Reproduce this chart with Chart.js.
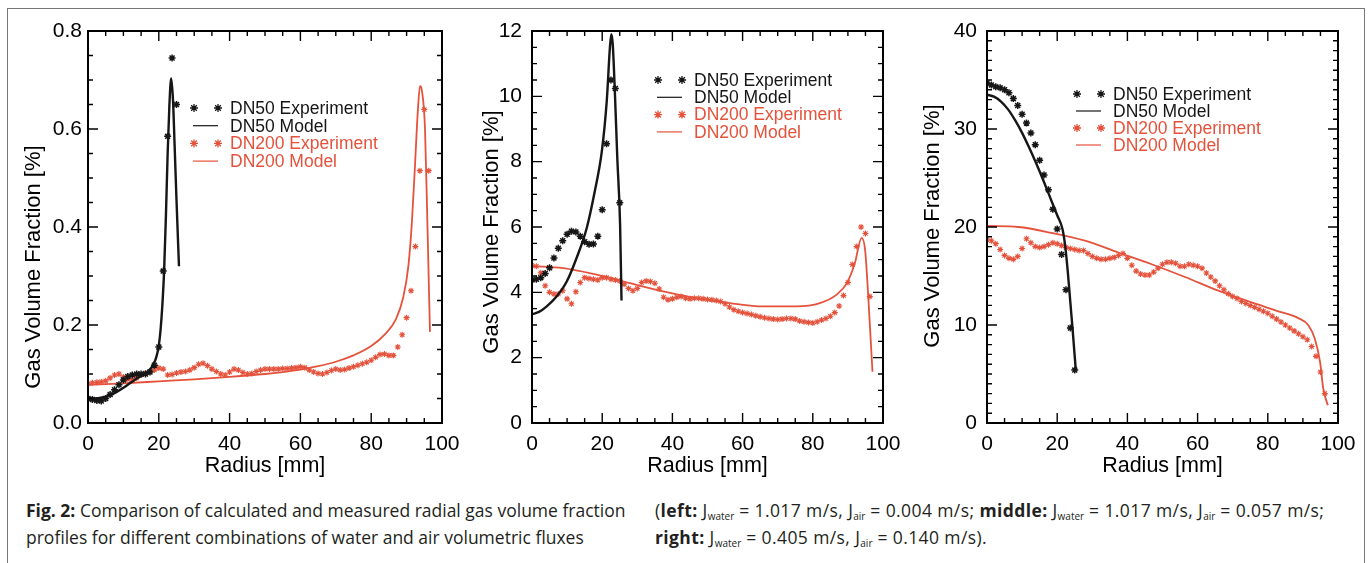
<!DOCTYPE html>
<html>
<head>
<meta charset="utf-8">
<script src="https://cdn.jsdelivr.net/npm/chart.js@4.4.1/dist/chart.umd.min.js"></script>
<style>
  html, body { margin: 0; padding: 0; background: #fff; }
  body { width: 1371px; height: 563px; position: relative; overflow: hidden; }
  #frame { position: absolute; left: 7px; top: 8px; width: 1358px; height: 600px; border: 1px solid #777; box-sizing: border-box; }
  canvas { position: absolute; top: 0; }
  .caption { position: absolute; top: 497px; font-family: "Open Sans", Lato, sans-serif; font-size: 17.5px; line-height: 27px; color: #231f20; white-space: nowrap; letter-spacing: 0; }
  .caption.right { letter-spacing: 0.4px; }
  .caption sub { font-size: 10px; line-height: 0; vertical-align: -3px; letter-spacing: 0; }
</style>
</head>
<body>
<div id="frame"></div>
<canvas id="c1" width="470" height="485" style="left:0px"></canvas>
<canvas id="c2" width="460" height="485" style="left:450px"></canvas>
<canvas id="c3" width="465" height="485" style="left:900px"></canvas>
<div class="caption" style="left:26px"><b>Fig. 2:</b> Comparison of calculated and measured radial gas volume fraction<br>profiles for different combinations of water and air volumetric fluxes</div>
<div class="caption right" style="left:655px">(<b>left:</b> J<sub>water</sub> = 1.017 m/s, J<sub>air</sub> = 0.004 m/s; <b>middle:</b> J<sub>water</sub> = 1.017 m/s, J<sub>air</sub> = 0.057 m/s;<br><b>right:</b> J<sub>water</sub> = 0.405 m/s, J<sub>air</sub> = 0.140 m/s).</div>
<script>
// measurement radii [mm]
const dn50R = [0, 1.25, 2.5, 3.75, 5, 6.25, 7.5, 8.75, 10, 11.25, 12.5, 13.75, 15, 16.25, 17.5, 18.75, 20, 21.25, 22.5, 23.75, 25];
const dn200R = [0, 1.25, 2.5, 3.75, 5, 6.25, 7.5, 8.75, 10, 11.25,
  12.5, 13.75, 15, 16.25, 17.5, 18.75, 20, 21.25, 22.5, 23.75,
  25, 26.25, 27.5, 28.75, 30, 31.25, 32.5, 33.75, 35, 36.25,
  37.5, 38.75, 40, 41.25, 42.5, 43.75, 45, 46.25, 47.5, 48.75,
  50, 51.25, 52.5, 53.75, 55, 56.25, 57.5, 58.75, 60, 61.25,
  62.5, 63.75, 65, 66.25, 67.5, 68.75, 70, 71.25, 72.5, 73.75,
  75, 76.25, 77.5, 78.75, 80, 81.25, 82.5, 83.75, 85, 86.25,
  87.5, 88.75, 90, 91.25, 92.5, 93.75, 95, 96.25];

// left panel
const exp50Left = [0.050, 0.048, 0.046, 0.045, 0.050, 0.058, 0.068, 0.078, 0.088, 0.095, 0.098, 0.100, 0.100, 0.100, 0.104, 0.118, 0.155, 0.310, 0.585, 0.745, 0.650];
const mod50LeftR = [0, 2, 4, 6, 8, 10, 12, 14, 16, 17, 18, 19, 19.5, 20, 20.5, 21, 21.5, 22, 22.5, 23, 23.5, 24, 24.5, 25, 25.7];
const mod50LeftV = [0.050, 0.050, 0.052, 0.056, 0.063, 0.072, 0.082, 0.092, 0.100, 0.106, 0.114, 0.128, 0.140, 0.158, 0.19, 0.24, 0.31, 0.42, 0.55, 0.65, 0.703, 0.66, 0.56, 0.455, 0.32];
const exp200Left = [0.080, 0.082, 0.083, 0.084, 0.086, 0.092, 0.098, 0.100, 0.094, 0.089,
  0.088, 0.092, 0.098, 0.102, 0.104, 0.108, 0.112, 0.110, 0.098, 0.099,
  0.102, 0.104, 0.105, 0.108, 0.113, 0.120, 0.122, 0.117, 0.110, 0.105,
  0.100, 0.098, 0.104, 0.110, 0.108, 0.103, 0.100, 0.101, 0.105, 0.108,
  0.110, 0.110, 0.110, 0.110, 0.111, 0.111, 0.112, 0.113, 0.115, 0.113,
  0.108, 0.104, 0.101, 0.100, 0.103, 0.107, 0.110, 0.108, 0.109, 0.112,
  0.115, 0.118, 0.121, 0.124, 0.128, 0.134, 0.140, 0.141, 0.138, 0.138,
  0.155, 0.180, 0.215, 0.270, 0.360, 0.515, 0.640, 0.515];
const mod200LeftR = [0, 10, 20, 30, 40, 50, 55, 60, 65, 70, 75, 80, 84, 87, 89, 90.5, 91.5, 92.4, 93.2, 93.8, 94.4, 95.2, 95.9, 96.6];
const mod200LeftV = [0.078, 0.081, 0.085, 0.089, 0.094, 0.100, 0.104, 0.109, 0.116, 0.125, 0.138, 0.157, 0.182, 0.212, 0.255, 0.32, 0.41, 0.53, 0.64, 0.688, 0.675, 0.60, 0.40, 0.186];

// middle panel
const exp50Mid = [4.38, 4.40, 4.45, 4.58, 4.75, 5.05, 5.35, 5.58, 5.78, 5.87, 5.85, 5.72, 5.55, 5.47, 5.48, 5.72, 6.53, 8.55, 10.5, 10.24, 6.74];
const mod50MidR = [0, 2, 4.2, 7, 9.9, 12.7, 15.6, 17.9, 19.9, 21.3, 22.2, 22.6, 23.0, 23.6, 24.3, 25.1, 25.5];
const mod50MidV = [3.33, 3.40, 3.57, 3.87, 4.33, 5.05, 5.97, 7.10, 8.32, 9.86, 11.5, 11.9, 11.6, 10.16, 8.12, 6.07, 3.75];
const exp200Mid = [4.82, 4.80, 4.60, 4.20, 4.00, 3.95, 3.95, 4.05, 3.80, 3.65,
  4.02, 4.30, 4.45, 4.42, 4.40, 4.38, 4.45, 4.45, 4.40, 4.38,
  4.35, 4.25, 4.12, 4.05, 4.12, 4.30, 4.35, 4.33, 4.28, 4.10,
  3.85, 3.77, 3.80, 3.85, 3.87, 3.82, 3.80, 3.82, 3.82, 3.80,
  3.78, 3.77, 3.75, 3.72, 3.65, 3.55, 3.47, 3.42, 3.38, 3.35,
  3.32, 3.28, 3.25, 3.22, 3.20, 3.18, 3.17, 3.18, 3.20, 3.20,
  3.18, 3.12, 3.10, 3.08, 3.06, 3.10, 3.15, 3.20, 3.27, 3.38,
  3.58, 3.90, 4.30, 4.85, 5.40, 6.00, 5.80, 3.87];
const mod200MidR = [0, 8.9, 18.4, 27.9, 37.4, 46.9, 56.4, 65.9, 75.4, 82, 86.8, 89.7, 92, 93.9, 94.9, 95.8, 97.0];
const mod200MidV = [4.80, 4.74, 4.54, 4.28, 4.03, 3.82, 3.67, 3.57, 3.57, 3.67, 3.93, 4.28, 4.90, 5.67, 5.30, 3.87, 1.57];

// right panel
const exp50Right = [34.7, 34.5, 34.3, 34.2, 34.0, 33.7, 33.1, 32.4, 31.5, 30.6, 29.6, 28.4, 26.8, 25.3, 23.8, 21.8, 19.8, 17.2, 13.6, 9.7, 5.4];
const mod50RightR = [0, 2, 4, 6, 8, 10, 12, 14, 16, 18, 20, 21.5, 22.3, 23, 23.7, 24.4, 25.3];
const mod50RightV = [33.5, 33.3, 32.8, 32.0, 30.9, 29.6, 28.1, 26.5, 24.8, 23.0, 21.2, 19.8, 18.0, 15.5, 12.5, 9.5, 5.4];
const exp200Right = [18.7, 18.6, 18.3, 17.7, 17.1, 16.8, 16.7, 17.0, 17.8, 18.8,
  18.4, 18.0, 17.9, 18.0, 18.2, 18.4, 18.3, 18.1, 17.9, 17.8,
  17.7, 17.6, 17.6, 17.3, 17.0, 16.8, 16.7, 16.7, 16.8, 16.9,
  17.1, 17.3, 16.8, 16.1, 15.5, 15.2, 15.1, 15.1, 15.4, 15.8,
  16.2, 16.4, 16.4, 16.3, 16.0, 16.0, 16.2, 16.1, 16.0, 15.8,
  15.3, 14.9, 14.5, 14.0, 13.6, 13.2, 12.9, 12.7, 12.4, 12.2,
  12.0, 11.8, 11.6, 11.4, 11.2, 10.9, 10.6, 10.3, 10.0, 9.7,
  9.4, 9.1, 8.8, 8.5, 7.8, 6.8, 5.2, 3.0];
const mod200RightR = [0, 8.9, 18.4, 27.9, 37.4, 46.9, 56.4, 65.9, 75.4, 83, 88.7, 91.5, 93.4, 94.9, 95.8, 97.1];
const mod200RightV = [20.1, 20.0, 19.4, 18.6, 17.4, 16.2, 14.9, 13.5, 12.3, 11.4, 10.7, 10.0, 8.6, 6.2, 3.5, 1.8];

// axis ticks
const xTicks = [0, 20, 40, 60, 80, 100];
const yTicksLeft = [0, 0.2, 0.4, 0.6, 0.8];
const yTicksMid = [0, 2, 4, 6, 8, 10, 12];
const yTicksRight = [0, 10, 20, 30, 40];

const BLACK = '#161616';
const RED = '#e5523c';
const FONT = '"Liberation Sans", Arial, Helvetica, sans-serif';

function pts(xs, ys) {
  return xs.map((x, i) => ({ x: x, y: ys[i] }));
}

function expSet(label, xs, ys, color, r, bw) {
  return { label: label, data: pts(xs, ys), showLine: false, pointStyle: 'star', pointRadius: r,
    borderColor: color, backgroundColor: color, pointBorderWidth: bw };
}

function modSet(label, xs, ys, color, w) {
  return { label: label, data: pts(xs, ys), showLine: true, pointRadius: 0, borderColor: color,
    borderWidth: w, cubicInterpolationMode: 'monotone', fill: false };
}

function star(ctx, x, y, r) {
  const d = r * Math.SQRT1_2;
  ctx.beginPath();
  ctx.moveTo(x - r, y); ctx.lineTo(x + r, y);
  ctx.moveTo(x, y - r); ctx.lineTo(x, y + r);
  ctx.moveTo(x - d, y - d); ctx.lineTo(x + d, y + d);
  ctx.moveTo(x - d, y + d); ctx.lineTo(x + d, y - d);
  ctx.stroke();
}

// IDL-like box with inward ticks, rotated y title and the inset legend
const idlFrame = {
  id: 'idlFrame',
  afterDraw(chart, args, o) {
    const { ctx, chartArea: a, scales: { x, y } } = chart;
    ctx.save();
    ctx.strokeStyle = '#000';
    ctx.lineWidth = 1.4;
    const isMajor = (v, step) => Math.abs(v / step - Math.round(v / step)) < 1e-6;
    for (let v = x.min; v <= x.max + 1e-9; v += o.xMinor) {
      const px = x.getPixelForValue(v);
      const len = isMajor(v, o.xMajor) ? 10 : 5;
      ctx.beginPath();
      ctx.moveTo(px, a.bottom); ctx.lineTo(px, a.bottom - len);
      ctx.moveTo(px, a.top); ctx.lineTo(px, a.top + len);
      ctx.stroke();
    }
    for (let v = y.min; v <= y.max + 1e-9; v += o.yMinor) {
      const py = y.getPixelForValue(v);
      const len = isMajor(v, o.yMajor) ? 10 : 5;
      ctx.beginPath();
      ctx.moveTo(a.left, py); ctx.lineTo(a.left + len, py);
      ctx.moveTo(a.right, py); ctx.lineTo(a.right - len, py);
      ctx.stroke();
    }
    ctx.lineWidth = 2;
    ctx.strokeRect(a.left, a.top, a.right - a.left, a.bottom - a.top);

    // y title
    ctx.fillStyle = '#000';
    ctx.font = '22px ' + FONT;
    ctx.textAlign = 'center';
    ctx.textBaseline = 'middle';
    ctx.translate(o.yTitleX, o.yTitleY);
    ctx.rotate(-Math.PI / 2);
    ctx.fillText('Gas Volume Fraction [%]', 0, 0);
    ctx.setTransform(1, 0, 0, 1, 0, 0);

    // legend
    ctx.font = '17.5px ' + FONT;
    ctx.textAlign = 'left';
    chart.data.datasets.forEach((ds, i) => {
      const ry = o.legendY + i * o.legendRow;
      ctx.strokeStyle = ds.borderColor;
      ctx.fillStyle = ds.borderColor;
      if (ds.showLine) {
        ctx.lineWidth = 1.2;
        ctx.beginPath();
        ctx.moveTo(o.legendX - 1, ry); ctx.lineTo(o.legendX + 24, ry);
        ctx.stroke();
      } else {
        ctx.lineWidth = 1.3;
        star(ctx, o.legendX, ry, 4);
        star(ctx, o.legendX + 24, ry, 4);
      }
      ctx.fillText(ds.label, o.legendX + 36, ry + 1);
    });
    ctx.restore();
  }
};

function makePanel(id, cfg) {
  const canvas = document.getElementById(id);
  return new Chart(canvas, {
    type: 'scatter',
    data: { datasets: cfg.datasets },
    plugins: [idlFrame],
    options: {
      responsive: false,
      animation: false,
      devicePixelRatio: 1,
      events: [],
      layout: { padding: { left: 0, top: 31, right: cfg.padRight, bottom: 0 } },
      plugins: {
        legend: { display: false },
        tooltip: { enabled: false },
        idlFrame: cfg.frame
      },
      scales: {
        x: {
          type: 'linear', min: 0, max: 100,
          grid: { display: false, drawTicks: false },
          border: { display: false },
          afterBuildTicks: s => { s.ticks = xTicks.map(v => ({ value: v })); },
          afterFit: s => { s.height = 62; s.paddingLeft = 0; s.paddingRight = 0; },
          ticks: { color: '#000', font: { family: FONT, size: 21 }, padding: 9, maxRotation: 0, autoSkip: false },
          title: { display: true, text: 'Radius [mm]', color: '#000', font: { family: FONT, size: 21.5 }, padding: { top: 0, bottom: 6 } }
        },
        y: {
          type: 'linear', min: cfg.yTicks[0], max: cfg.yTicks[cfg.yTicks.length - 1],
          grid: { display: false, drawTicks: false },
          border: { display: false },
          afterBuildTicks: s => { s.ticks = cfg.yTicks.map(v => ({ value: v })); },
          afterFit: s => { s.width = cfg.yWidth; s.paddingTop = 0; s.paddingBottom = 0; },
          ticks: { color: '#000', font: { family: FONT, size: 21 }, padding: cfg.tickPad, autoSkip: false,
            callback: v => v.toFixed(cfg.decimals) }
        }
      }
    }
  });
}

makePanel('c1', {
  yTicks: yTicksLeft, decimals: 1, yWidth: 88, padRight: 28, tickPad: 6,
  frame: { xMinor: 5, xMajor: 20, yMinor: 0.05, yMajor: 0.2, yTitleX: 34, yTitleY: 267, legendX: 194, legendY: 108, legendRow: 17.7 },
  datasets: [
    expSet('DN50 Experiment', dn50R, exp50Left, BLACK, 3.5, 1.5),
    modSet('DN50 Model', mod50LeftR, mod50LeftV, BLACK, 2.4),
    expSet('DN200 Experiment', dn200R, exp200Left, RED, 3, 1.1),
    modSet('DN200 Model', mod200LeftR, mod200LeftV, RED, 1.8)
  ]
});

makePanel('c2', {
  yTicks: yTicksMid, decimals: 0, yWidth: 82, padRight: 27, tickPad: 10,
  frame: { xMinor: 5, xMajor: 20, yMinor: 0.5, yMajor: 2, yTitleX: 42, yTitleY: 232, legendX: 208, legendY: 80, legendRow: 17.3 },
  datasets: [
    expSet('DN50 Experiment', dn50R, exp50Mid, BLACK, 3.5, 1.5),
    modSet('DN50 Model', mod50MidR, mod50MidV, BLACK, 2.4),
    expSet('DN200 Experiment', dn200R, exp200Mid, RED, 3, 1.1),
    modSet('DN200 Model', mod200MidR, mod200MidV, RED, 1.8)
  ]
});

makePanel('c3', {
  yTicks: yTicksRight, decimals: 0, yWidth: 87, padRight: 27, tickPad: 10,
  frame: { xMinor: 5, xMajor: 20, yMinor: 1, yMajor: 10, yTitleX: 33, yTitleY: 226, legendX: 177, legendY: 94, legendRow: 17 },
  datasets: [
    expSet('DN50 Experiment', dn50R, exp50Right, BLACK, 3.5, 1.5),
    modSet('DN50 Model', mod50RightR, mod50RightV, BLACK, 2.4),
    expSet('DN200 Experiment', dn200R, exp200Right, RED, 3, 1.1),
    modSet('DN200 Model', mod200RightR, mod200RightV, RED, 1.8)
  ]
});
</script>
</body>
</html>
